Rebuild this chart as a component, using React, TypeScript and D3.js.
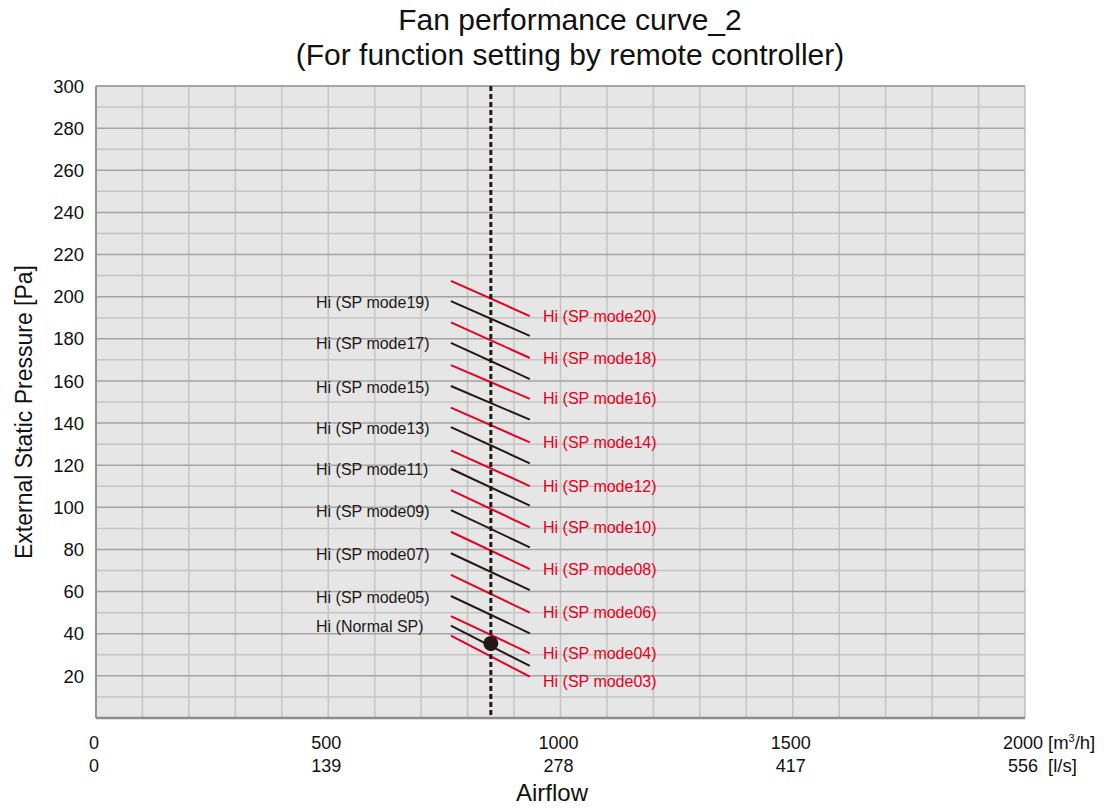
import { useMemo } from 'react';
import * as d3 from 'd3';

const titleLines = ['Fan performance curve_2', '(For function setting by remote controller)'];

// y axis (Pa)
const pressureTicks = [20, 40, 60, 80, 100, 120, 140, 160, 180, 200, 220, 240, 260, 280, 300];

// x axis, two unit rows
const flowTicks = [0, 500, 1000, 1500, 2000];
const flowTicksLs = ['0', '139', '278', '417', '556'];

// every fan line runs over the same airflow span
const lineFlow = [764, 934];

const blackLabels = [
  'Hi (SP mode19)',
  'Hi (SP mode17)',
  'Hi (SP mode15)',
  'Hi (SP mode13)',
  'Hi (SP mode11)',
  'Hi (SP mode09)',
  'Hi (SP mode07)',
  'Hi (SP mode05)',
  'Hi (Normal SP)',
];
const blackStart = [197.9, 178.1, 157.6, 138.1, 118.3, 98.7, 78.2, 57.9, 43.8];
const blackEnd = [181.4, 160.9, 141.6, 120.9, 100.8, 81.0, 60.7, 40.2, 24.7];

const redLabels = [
  'Hi (SP mode20)',
  'Hi (SP mode18)',
  'Hi (SP mode16)',
  'Hi (SP mode14)',
  'Hi (SP mode12)',
  'Hi (SP mode10)',
  'Hi (SP mode08)',
  'Hi (SP mode06)',
  'Hi (SP mode04)',
  'Hi (SP mode03)',
];
const redStart = [207.5, 187.8, 167.5, 147.3, 127.0, 108.2, 88.4, 67.9, 48.4, 39.1];
const redEnd = [190.8, 170.9, 151.5, 130.8, 110.1, 90.5, 70.7, 50.0, 30.7, 19.6];

// rated point
const ratedFlow = 850;
const ratedPressure = 35.4;

const WIDTH = 1104;
const HEIGHT = 810;
const FONT = '"Liberation Sans", Arial, Helvetica, sans-serif';
const RED = '#e50020';
const BLACK = '#231815';

export default function App() {
  const x = useMemo(() => d3.scaleLinear().domain([0, 2000]).range([96, 1025]), []);
  const y = useMemo(() => d3.scaleLinear().domain([0, 300]).range([718, 86]), []);

  const line = d3
    .line<[number, number]>()
    .x((d) => x(d[0]))
    .y((d) => y(d[1]));

  const minorY = d3.range(10, 300, 20);
  const gridX = d3.range(100, 2000, 100);

  return (
    <svg
      width={WIDTH}
      height={HEIGHT}
      style={{ position: 'absolute', left: 0, top: 0, fontFamily: FONT }}
    >
      <rect x={0} y={0} width={WIDTH} height={HEIGHT} fill="white" />

      {titleLines.map((t, i) => (
        <text key={t} x={570} y={30 + i * 35} textAnchor="middle" fontSize={30} fill="#111">
          {t}
        </text>
      ))}

      {/* plot background + grid */}
      <rect x={x(0)} y={y(300)} width={x(2000) - x(0)} height={y(0) - y(300)} fill="#e6e6e6" />
      {gridX.map((v) => (
        <line key={'gx' + v} x1={x(v)} x2={x(v)} y1={y(0)} y2={y(300)} stroke="#c4c4c4" strokeWidth={1.5} />
      ))}
      {minorY.map((v) => (
        <line key={'my' + v} x1={x(0)} x2={x(2000)} y1={y(v)} y2={y(v)} stroke="#c4c4c4" strokeWidth={1.5} />
      ))}
      {pressureTicks.map((v) => (
        <line key={'gy' + v} x1={x(0)} x2={x(2000)} y1={y(v)} y2={y(v)} stroke="#a3a3a3" strokeWidth={1.5} />
      ))}
      <line x1={x(2000)} x2={x(2000)} y1={y(0)} y2={y(300)} stroke="#bdbdbd" strokeWidth={1.5} />
      <line x1={x(0)} x2={x(0)} y1={y(0)} y2={y(300)} stroke="#959595" strokeWidth={2} />
      <line x1={x(0)} x2={x(2000)} y1={y(0)} y2={y(0)} stroke="#8c8c8c" strokeWidth={2.5} />
      <line x1={x(0)} x2={x(2000)} y1={y(300)} y2={y(300)} stroke="#a0a0a0" strokeWidth={1.5} />

      {/* y ticks */}
      {pressureTicks.map((v) => (
        <text key={'yt' + v} x={84} y={y(v)} dy="0.36em" textAnchor="end" fontSize={18.5} fill="#111">
          {v}
        </text>
      ))}
      <text
        transform={`translate(32,${(y(0) + y(300)) / 2 + 10}) rotate(-90)`}
        textAnchor="middle"
        fontSize={23}
        fill="#111"
      >
        External Static Pressure [Pa]
      </text>

      {/* x ticks */}
      {flowTicks.map((v, i) => (
        <g key={'xt' + v}>
          <text x={x(v) - 2} y={749} textAnchor="middle" fontSize={18} fill="#111">
            {v}
          </text>
          <text x={x(v) - 2} y={772} textAnchor="middle" fontSize={18} fill="#111">
            {flowTicksLs[i]}
          </text>
        </g>
      ))}
      <text x={1048} y={749} fontSize={18.5} fill="#111">
        [m<tspan dy={-7} fontSize={11}>3</tspan>
        <tspan dy={7}>/h]</tspan>
      </text>
      <text x={1048} y={772} fontSize={18.5} fill="#111">
        [l/s]
      </text>
      <text x={552} y={801} textAnchor="middle" fontSize={24} fill="#111">
        Airflow
      </text>

      {/* fan lines */}
      {blackLabels.map((label, i) => (
        <g key={label}>
          <path
            d={line([
              [lineFlow[0], blackStart[i]],
              [lineFlow[1], blackEnd[i]],
            ]) ?? ''}
            stroke={BLACK}
            strokeWidth={2}
            fill="none"
          />
          <text x={316} y={y(blackStart[i]) + 1} dy="0.35em" fontSize={16} fill={BLACK}>
            {label}
          </text>
        </g>
      ))}
      {redLabels.map((label, i) => (
        <g key={label}>
          <path
            d={line([
              [lineFlow[0], redStart[i]],
              [lineFlow[1], redEnd[i]],
            ]) ?? ''}
            stroke={RED}
            strokeWidth={2}
            fill="none"
          />
          <text
            x={543}
            y={y(redEnd[i]) + (i === redLabels.length - 1 ? 5 : 0)}
            dy="0.35em"
            fontSize={16}
            fill={RED}
          >
            {label}
          </text>
        </g>
      ))}

      {/* rated airflow */}
      <line
        x1={x(ratedFlow)}
        x2={x(ratedFlow)}
        y1={y(300)}
        y2={y(0)}
        stroke={BLACK}
        strokeWidth={3}
        strokeDasharray="5,3"
      />
      <circle cx={x(ratedFlow)} cy={y(ratedPressure)} r={7.5} fill={BLACK} />
    </svg>
  );
}
